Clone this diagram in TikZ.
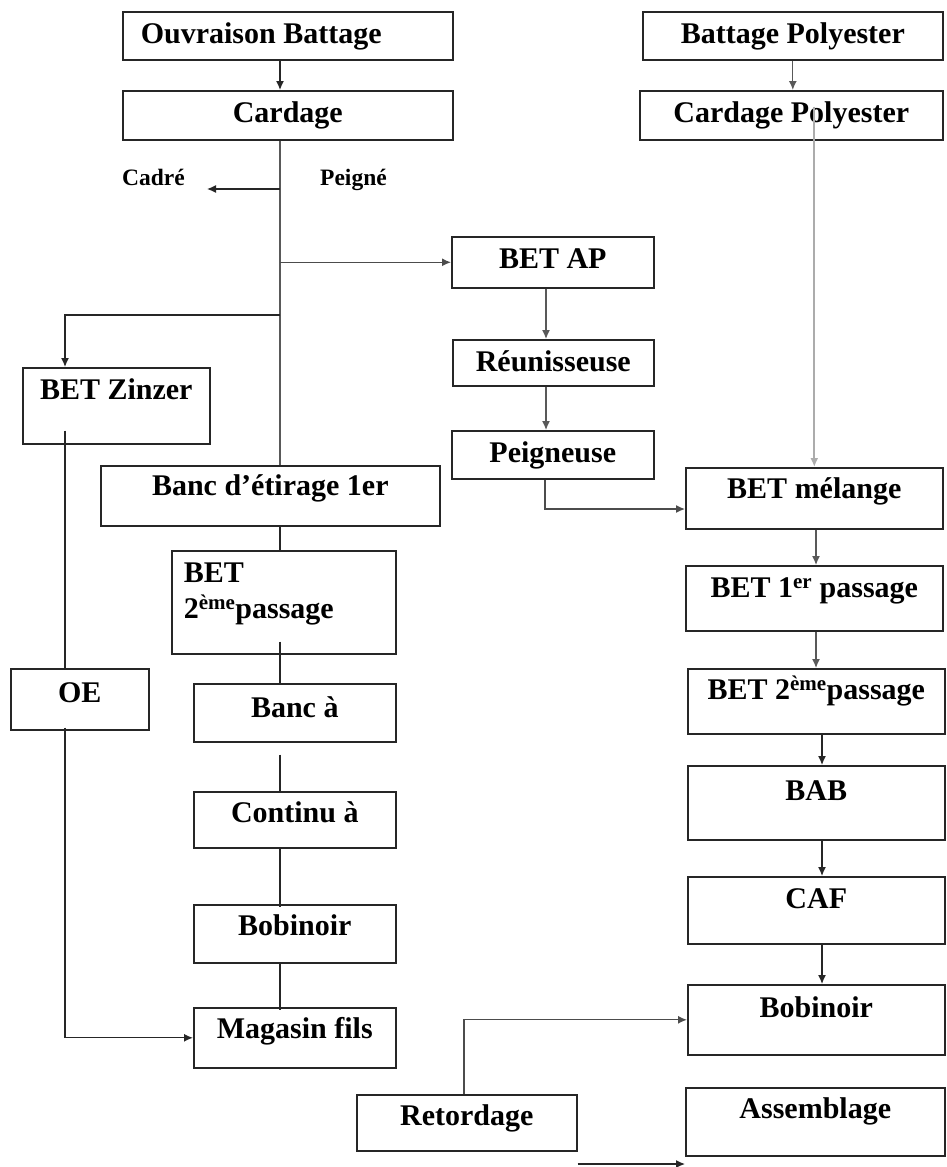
\documentclass[tikz,border=0pt]{standalone}
\usepackage{fontspec}
\setmainfont{Liberation Serif}
\usetikzlibrary{arrows.meta,positioning,calc}

\newcommand\procfont{\fontsize{30}{36}\selectfont\bfseries}
\newcommand\lblfont{\fontsize{23.5}{28}\selectfont\bfseries}

\begin{document}
\begin{tikzpicture}[
  x=1pt, y=-1pt,
  >={Latex[width=8pt,length=9pt]},
  process/.style={
    rectangle, draw=black!85, line width=1.6pt, inner sep=0pt,
    anchor=north west, font=\procfont, text height=32pt
  },
  link/.style={line width=1.3pt, draw=#1},
  link/.default=black!85,
  arrow/.style={link=#1, ->},
  arrow/.default=black!85,
  elabel/.style={font=\lblfont, inner sep=0pt, anchor=base west},
]
  \useasboundingbox (0,0) rectangle (947,1167);

  % Top: coton and polyester
  \node[process, minimum width=330pt, text depth=16pt] (ouvbat) at (122,11)
    {\makebox[294pt][l]{Ouvraison Battage}};
  \node[process, minimum width=330pt, text depth=17pt] (card) at (122,90) {Cardage};
  \node[process, minimum width=300pt, text depth=16pt] (batpoly) at (642,11) {Battage Polyester};
  \node[process, minimum width=303pt, text depth=17pt] (cardpoly) at (639,90) {Cardage Polyester};

  % Cadre / peigne
  \node[elabel] (cadre) at (122,185) {Cadré};
  \node[elabel] (peigne) at (320,185) {Peigné};

  % Peigne branch
  \node[process, minimum width=202pt, text depth=19pt] (betap) at (451,236) {BET AP};
  \node[process, minimum width=201pt, text depth=14pt] (reun) at (452,339) {Réunisseuse};
  \node[process, minimum width=202pt, text depth=16pt] (peign) at (451,430) {Peigneuse};

  % Left column
  \node[process, minimum width=187pt, text depth=44pt] (zinzer) at (22,367) {BET Zinzer};
  \node[process, minimum width=138pt, text height=34pt, text depth=27pt] (oe) at (10,668) {OE};

  % Middle column
  \node[process, minimum width=339pt, text height=30pt, text depth=30pt] (banc1) at (100,465) {Banc d’étirage 1er};
  \node[process, minimum width=224pt, text depth=71pt] (bet2) at (171,550)
    {\parbox[t]{200pt}{\raggedright\procfont BET\\2\textsuperscript{ème}passage}};
  \node[process, minimum width=202pt, text height=34pt, text depth=24pt] (banca) at (193,683) {Banc à};
  \node[process, minimum width=202pt, text height=31pt, text depth=25pt] (continu) at (193,791) {Continu à};
  \node[process, minimum width=202pt, text height=31pt, text depth=27pt] (bobin) at (193,904) {Bobinoir};
  \node[process, minimum width=202pt, text height=31pt, text depth=29pt] (magasin) at (193,1007) {Magasin fils};

  % Right column
  \node[process, minimum width=257pt, text height=31pt, text depth=30pt] (betmel) at (685,467) {BET mélange};
  \node[process, minimum width=257pt, text depth=33pt] (bet1p) at (685,565) {BET 1\textsuperscript{er} passage};
  \node[process, minimum width=257pt, text height=31pt, text depth=34pt] (bet2p) at (687,668) {BET 2\textsuperscript{ème}passage};
  \node[process, minimum width=257pt, text height=35pt, text depth=39pt] (bab) at (687,765) {BAB};
  \node[process, minimum width=257pt, text depth=35pt] (caf) at (687,876) {CAF};
  \node[process, minimum width=257pt, text height=33pt, text depth=37pt] (bobinr) at (687,984) {Bobinoir};
  \node[process, minimum width=259pt, text height=31pt, text depth=37pt] (assembl) at (685,1087) {Assemblage};
  \node[process, minimum width=220pt, text height=31pt, text depth=25pt] (retord) at (356,1094) {Retordage};

  % Helper coordinates for the vertical runs
  \coordinate (trunk) at (280,0);
  \coordinate (zx) at (65,315);
  \coordinate (ax) at (546,0);
  \coordinate (pm) at (545,509);
  \coordinate (rx) at (816,0);
  \coordinate (rx2) at (822,0);
  \coordinate (cadreend) at (207,189);
  \coordinate (bot) at (0,1164);

  % Arrows: coton line
  \draw[arrow] (ouvbat.south -| trunk) -- (card.north -| trunk);
  \draw[link=gray!70!black] (card.south -| trunk) -- (banc1.north -| trunk);
  \draw[arrow] (cadreend -| trunk) -- (cadreend);
  \draw[arrow=gray!60!black] (trunk |- betap.west) -- (betap.west);
  \draw[arrow] (trunk |- zx) -- (zx) -- (zinzer.north -| zx);

  % Arrows: open end
  \draw[link] ([yshift=14pt]zinzer.south -| zx) -- (oe.north -| zx);
  \draw[arrow] ([yshift=3pt]oe.south -| zx) |- (magasin.west);

  % Arrows: ring line
  \draw[link] (banc1.south -| trunk) -- (bet2.north -| trunk);
  \draw[link] ([yshift=13pt]bet2.south -| trunk) -- (banca.north -| trunk);
  \draw[link] ([yshift=-12pt]banca.south -| trunk) -- (continu.north -| trunk);
  \draw[link] (continu.south -| trunk) -- ([yshift=-3pt]bobin.north -| trunk);
  \draw[link] (bobin.south -| trunk) -- ([yshift=-3pt]magasin.north -| trunk);

  % Arrows: peigne branch
  \draw[arrow=gray!70!black] (betap.south -| ax) -- (reun.north -| ax);
  \draw[arrow=gray!70!black] (reun.south -| ax) -- (peign.north -| ax);
  \draw[arrow=gray!60!black] (peign.south -| pm) -- (pm) -- (pm -| betmel.west);

  % Arrows: polyester and melange
  \draw[arrow=gray!70!black] (batpoly.south) -- (batpoly.south |- cardpoly.north);
  \draw[arrow=gray!65, line width=2pt] ([yshift=34pt]cardpoly.south -| betmel.north) -- (betmel.north);
  \draw[arrow=gray!70!black] (betmel.south -| rx) -- (bet1p.north -| rx);
  \draw[arrow=gray!70!black] (bet1p.south -| rx) -- (bet2p.north -| rx);
  \draw[arrow] (bet2p.south -| rx2) -- (bab.north -| rx2);
  \draw[arrow] (bab.south -| rx2) -- (caf.north -| rx2);
  \draw[arrow] (caf.south -| rx2) -- (bobinr.north -| rx2);

  % Arrows: retordage
  \draw[arrow=gray!60!black] (retord.north -| 464,0) |- (bobinr.west);
  \draw[arrow] (retord.east |- bot) -- (assembl.west |- bot);
\end{tikzpicture}
\end{document}
